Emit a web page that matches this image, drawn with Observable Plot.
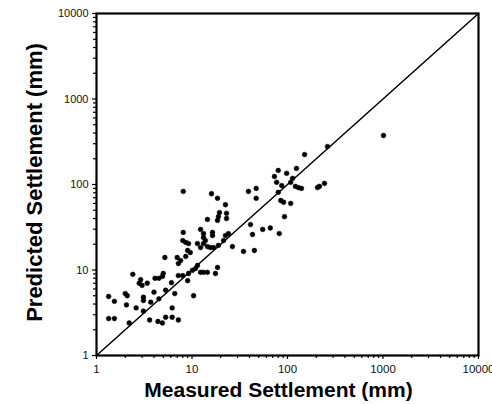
<!DOCTYPE html>
<html>
<head>
<meta charset="utf-8">
<script src="https://cdn.jsdelivr.net/npm/d3@7"></script>
<script src="https://cdn.jsdelivr.net/npm/@observablehq/plot@0.6"></script>
<style>
  html, body { margin: 0; padding: 0; background: #fff; }
  #chart svg { display: block; }
</style>
</head>
<body>
<div id="chart"></div>
<script>
// Measured settlement (mm)
const measured = [
  1.34, 1.54, 1.34, 1.54, 2.0, 2.1, 2.06, 2.4, 2.6, 2.2,
  2.9, 2.8, 3.0, 3.4, 3.1, 3.1, 3.1, 3.6, 3.7, 4.0,
  4.1, 4.5, 4.9, 5.0, 4.4, 4.9, 4.5, 5.2, 5.3, 5.3,
  7.0, 7.6, 7.2, 9.0, 9.6, 8.6, 9.2, 9.0, 8.0, 10.1,
  10.9, 11.4, 12.3, 13.2, 14.5, 17.6, 18.5, 10.4, 6.1, 7.2,
  6.2, 6.2, 7.2, 6.6, 11.4, 12.3, 13.2, 14.5, 15.6, 16.8,
  18.9, 8.0, 8.6, 9.2, 8.1, 12.3, 13.2, 13.2, 13.8, 16.4,
  16.4, 21.4, 22.4, 24.1, 26.5, 34.6, 45, 8.1, 16, 18.5,
  22.4, 14.5, 19.4, 18.9, 18.5, 23, 23, 39, 47, 47,
  41, 43, 55, 66, 82, 73, 80, 98, 77, 87,
  80, 113, 108, 124, 151, 262, 121, 130, 140, 85,
  91, 108, 93, 206, 216, 244, 1012
];
// Predicted settlement (mm)
const predicted = [
  4.9, 4.3, 2.7, 2.7, 5.3, 5.0, 3.9, 8.9, 3.6, 2.4,
  7.7, 7.0, 6.6, 7.0, 4.8, 4.4, 3.3, 2.6, 4.2, 5.5,
  8.0, 8.0, 8.4, 9.1, 2.5, 2.4, 4.6, 14, 5.8, 2.8,
  14, 12.9, 11.9, 16.9, 16, 14.4, 9.1, 7.5, 8.6, 9.9,
  10.4, 11.3, 9.4, 9.4, 9.4, 9.1, 10.7, 5.0, 7.1, 8.6,
  3.6, 2.8, 2.6, 5.3, 20.4, 18.3, 20.4, 18.8, 18.3, 18.3,
  19.4, 22.1, 21, 20.4, 27.5, 29.8, 26.7, 24, 22.1, 27.5,
  25.3, 22.1, 25.3, 26.7, 18.8, 16.5, 16.9, 83, 78, 69,
  58, 39, 47, 42, 38, 46, 40, 83, 90, 69,
  34, 26, 29.8, 31, 26.7, 124, 146, 135, 106, 97,
  81, 118, 106, 154, 224, 278, 95, 92, 90, 65,
  62, 60, 42, 92, 95, 103, 374
];
const data = measured.map((m, i) => ({measured: m, predicted: predicted[i]}));

// 1:1 line end values
const oneToOne = [1, 10000];

// Axis ticks and labels
const majorTicks = [1, 10, 100, 1000, 10000];
const majorLabels = ["1", "10", "100", "1000", "10000"];
const minorTicks = majorTicks.slice(0, -1).flatMap(p => [2,3,4,5,6,7,8,9].map(k => k * p));

const xTitle = "Measured Settlement (mm)";
const yTitle = "Predicted Settlement (mm)";

const fmt = d => majorLabels[majorTicks.indexOf(d)] ?? "";

const chart = Plot.plot({
  width: 492,
  height: 404,
  marginLeft: 96,
  marginRight: 14,
  marginTop: 13,
  marginBottom: 49,
  style: {fontFamily: "'Liberation Sans', Arial, Helvetica, sans-serif", background: "#fff", color: "#000"},
  x: {type: "log", domain: [1, 10000]},
  y: {type: "log", domain: [1, 10000]},
  marks: [
    Plot.axisX({ticks: minorTicks, tickSize: 3, tickFormat: () => "", label: null, strokeWidth: 1.2}),
    Plot.axisX({ticks: majorTicks, tickSize: 4, tickPadding: 5, tickFormat: fmt, label: null, fontSize: 11.5, fill: "#111", strokeWidth: 1.2}),
    Plot.axisY({ticks: minorTicks, tickSize: 3, tickFormat: () => "", label: null, strokeWidth: 1.2}),
    Plot.axisY({ticks: majorTicks, tickSize: 4, tickPadding: 4, tickFormat: fmt, label: null, fontSize: 11, fill: "#111", strokeWidth: 1.2}),
    Plot.line(oneToOne, {x: d => d, y: d => d, stroke: "#000", strokeWidth: 1.5}),
    Plot.dot(data, {x: "measured", y: "predicted", r: 2.4, fill: "#000", stroke: "#000", strokeWidth: 0.5}),
    Plot.frame({stroke: "#000", strokeWidth: 2.2}),
    Plot.text([xTitle], {frameAnchor: "bottom", textAnchor: "middle", lineAnchor: "middle", dx: -9, dy: 35, text: d => d, fontSize: 21, fontWeight: "bold", fill: "#000", letterSpacing: 2.2}),
    Plot.text([yTitle], {frameAnchor: "left", textAnchor: "middle", lineAnchor: "middle", dx: -62, dy: -2, rotate: -90, text: d => d, fontSize: 22, fontWeight: "bold", fill: "#000", letterSpacing: 1.5})
  ]
});
document.getElementById("chart").appendChild(chart);
</script>
</body>
</html>
